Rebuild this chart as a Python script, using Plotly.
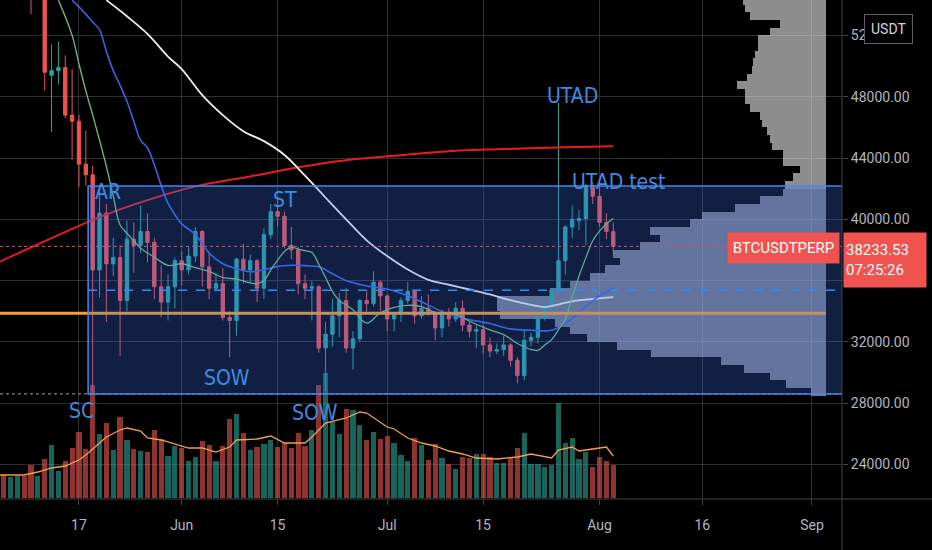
import pandas as pd
import plotly.graph_objects as go

# daily candles, BTCUSDT perp, 2021-05-06 .. 2021-08-03
days = pd.date_range("2021-05-06", "2021-08-03", freq="D")

opens = [57400, 56400, 57300, 58900, 58200, 55800, 56700, 49400, 49700, 49900, 46800, 46400, 43600, 42900,
         36700, 40400, 37100, 37500, 34700, 38700, 38300, 39200, 38500, 35600, 34600, 35600,
         37300, 36700, 37600, 39200, 36900, 35500, 35800, 33600, 33400, 37400, 36700, 37300, 35500, 39000,
         40500, 40200, 38300, 38000, 35800, 35500, 35600, 31600, 32500, 33700, 34700, 31600, 32200, 34700,
         34500, 35900,
         35000, 33500, 33800, 34700, 35300, 33700, 34200, 33900, 32900, 33800, 33500, 34200, 33100, 32700,
         32800, 31800, 31400, 31500, 31800, 30800, 29800, 32100, 32300, 33600, 34300, 35400, 37300, 39500,
         39900, 40050, 42200,
         41500, 39800, 39200]
highs = [58400, 58600, 59500, 59300, 59500, 56900, 58000, 51400, 51600, 50700, 49800, 46800, 45800, 43500,
         42100, 41000, 38800, 38300, 39900, 39800, 40900, 40400, 38800, 37000, 36400, 37500,
         37900, 38200, 39500, 39300, 37900, 36500, 36800, 34000, 37500, 38400, 37700, 37400, 39400, 41000,
         41300, 40500, 39500, 38200, 36400, 36000, 35700, 33300, 34800, 35200, 35500, 32700, 34800, 35300,
         36600, 36000,
         35100, 33900, 34900, 35900, 35400, 35000, 35100, 34000, 34100, 34200, 34600, 34700, 33300, 33100,
         33200, 32300, 31900, 32400, 31900, 31000, 32800, 32600, 33700, 34500, 35500, 47600, 39600, 40900,
         40600, 42300, 42400,
         42600, 40400, 39800]
lows = [55200, 55400, 56900, 56300, 53400, 54400, 48400, 45700, 48800, 46600, 43900, 42100, 42200, 28650,
        34900, 33300, 36300, 31100, 34000, 36500, 37800, 37200, 34800, 33600, 33400, 34200,
        35700, 36400, 37200, 35600, 34800, 35300, 33400, 31000, 32400, 35800, 35900, 34600, 34800, 38700,
        39500, 38100, 37400, 35100, 34800, 33400, 31300, 28800, 31700, 32300, 31300, 30200, 32000, 33900,
        34300, 34000,
        32700, 32700, 33300, 34500, 33200, 33500, 33700, 32100, 32300, 33000, 33300, 32700, 32300, 31600,
        31200, 31000, 31200, 31100, 30400, 29300, 29500, 31700, 31900, 33400, 33900, 35300, 36400, 38800,
        39300, 38300, 41000,
        39500, 38700, 37700]
closes = [56400, 57300, 58900, 58200, 55800, 56700, 49600, 49700, 49900, 46800, 46400, 43600, 42900, 36700,
          40400, 37100, 37500, 34700, 38700, 38300, 39200, 38500, 35600, 34600, 35600, 37300,
          36700, 37600, 39200, 36900, 35500, 35800, 33600, 33400, 37400, 36700, 37300, 35500, 39000, 40500,
          40200, 38300, 38000, 35800, 35500, 35600, 31600, 32500, 33700, 34700, 31600, 32200, 34700, 34500,
          35900, 35000,
          33500, 33800, 34700, 35300, 33700, 34200, 33900, 32900, 33800, 33500, 34200, 33100, 32700, 32800,
          31800, 31400, 31500, 31800, 30800, 29800, 32100, 32300, 33600, 34300, 35400, 37300, 39500, 40000,
          40050, 42200, 41500,
          39800, 39200, 38233.53]
# volume, thousand BTC
volumes = [138, 126, 132, 132, 198, 132, 234, 318, 162, 222, 300, 396, 294, 678, 384, 450, 288, 486, 348,
           294, 282, 276, 408, 354, 252, 312,
           300, 222, 246, 342, 318, 222, 312, 474, 504, 390, 288, 306, 324, 348, 306, 330, 300, 390, 312,
           408, 678, 750, 456, 384, 534, 528, 438, 348, 396, 354,
           372, 330, 258, 222, 360, 318, 228, 324, 240, 204, 174, 246, 240, 264, 264, 246, 210, 210, 240,
           300, 390, 204, 204, 186, 198, 570, 330, 360, 234, 276, 186,
           246, 222, 198]

# moving averages
ma200_dates = ["2021-05-05", "2021-05-13", "2021-05-20", "2021-05-27", "2021-06-03", "2021-06-11",
               "2021-06-18", "2021-06-25", "2021-07-03", "2021-07-10", "2021-07-17", "2021-07-27", "2021-08-03"]
ma200_vals = [37150, 38770, 40140, 41250, 42150, 42800, 43400, 43860, 44180, 44440, 44570, 44700, 44770]

ma100_dates = ["2021-05-21", "2021-05-24", "2021-05-27", "2021-05-30", "2021-06-01", "2021-06-04",
               "2021-06-07", "2021-06-10", "2021-06-13", "2021-06-16", "2021-06-19", "2021-06-22",
               "2021-06-25", "2021-06-28", "2021-07-01", "2021-07-04", "2021-07-07", "2021-07-10",
               "2021-07-13", "2021-07-16", "2021-07-19", "2021-07-22", "2021-07-24", "2021-07-26",
               "2021-07-28", "2021-07-31", "2021-08-03"]
ma100_vals = [54300, 53250, 52100, 50620, 49800, 48100, 46800, 45750, 45100, 44200, 42850, 41420, 40000,
              38630, 37600, 36720, 36050, 35730, 35420, 35100, 34720, 34410, 34270, 34450, 34650, 34800, 34920]

ma50_dates = ["2021-05-16", "2021-05-17", "2021-05-19", "2021-05-20", "2021-05-21", "2021-05-22",
              "2021-05-23", "2021-05-24", "2021-05-25", "2021-05-26", "2021-05-27", "2021-05-28",
              "2021-05-29", "2021-05-30", "2021-05-31", "2021-06-01", "2021-06-03", "2021-06-05",
              "2021-06-07", "2021-06-09", "2021-06-11", "2021-06-13", "2021-06-15", "2021-06-17",
              "2021-06-19", "2021-06-21", "2021-06-23", "2021-06-25", "2021-06-27", "2021-06-29",
              "2021-07-01", "2021-07-04", "2021-07-07", "2021-07-10", "2021-07-13", "2021-07-16",
              "2021-07-19", "2021-07-22", "2021-07-25", "2021-07-27", "2021-07-29", "2021-07-31", "2021-08-03"]
ma50_vals = [54300, 53860, 52880, 52370, 50950, 49700, 48750, 47700, 46400, 45150, 44670, 43560, 42200,
             41050, 40300, 39700, 39000, 37800, 37100, 36780, 36580, 36700, 36930, 37000, 36980, 36900,
             36450, 36000, 35750, 35580, 35450, 35020, 34400, 33800, 33450, 33200, 32850, 32760, 32760,
             33200, 33900, 34700, 35500]

ma10_dates = ["2021-05-14", "2021-05-16", "2021-05-17", "2021-05-18", "2021-05-19", "2021-05-20",
              "2021-05-21", "2021-05-22", "2021-05-23", "2021-05-24", "2021-05-25", "2021-05-26",
              "2021-05-28", "2021-05-30", "2021-06-01", "2021-06-03", "2021-06-05", "2021-06-07",
              "2021-06-09", "2021-06-11", "2021-06-12", "2021-06-13", "2021-06-14", "2021-06-15",
              "2021-06-16", "2021-06-17", "2021-06-18", "2021-06-19", "2021-06-20", "2021-06-21",
              "2021-06-22", "2021-06-23", "2021-06-24", "2021-06-25", "2021-06-26", "2021-06-28",
              "2021-06-30", "2021-07-02", "2021-07-04", "2021-07-06", "2021-07-08", "2021-07-11",
              "2021-07-13", "2021-07-16", "2021-07-18", "2021-07-20", "2021-07-22", "2021-07-23",
              "2021-07-24", "2021-07-25", "2021-07-26", "2021-07-27", "2021-07-28", "2021-07-29",
              "2021-07-30", "2021-07-31", "2021-08-01", "2021-08-02", "2021-08-03"]
ma10_vals = [54300, 52000, 50140, 48380, 46810, 45160, 43450, 41530, 39630, 39090, 38600, 38110, 37530,
             36990, 37100, 36850, 36600, 36200, 36100, 35850, 35800, 36000, 36700, 37330, 37900, 38180,
             38050, 37950, 37850, 37070, 36200, 35300, 34700, 34400, 34100, 33220, 33900, 34250, 34390,
             34300, 33930, 33800, 33350, 32780, 32470, 31900, 31500, 31450, 31800, 32150, 32800, 33500,
             34940, 36300, 37500, 38600, 39250, 39700, 40050]

vma_dates = ["2021-05-05", "2021-05-09", "2021-05-11", "2021-05-13", "2021-05-15", "2021-05-17",
             "2021-05-18", "2021-05-20", "2021-05-21", "2021-05-23", "2021-05-24", "2021-05-26",
             "2021-05-27", "2021-05-29", "2021-05-31", "2021-06-02", "2021-06-04", "2021-06-06",
             "2021-06-08", "2021-06-09", "2021-06-12", "2021-06-14", "2021-06-16", "2021-06-19",
             "2021-06-20", "2021-06-22", "2021-06-25", "2021-06-27", "2021-06-28", "2021-07-01",
             "2021-07-02", "2021-07-04", "2021-07-06", "2021-07-08", "2021-07-10", "2021-07-12",
             "2021-07-14", "2021-07-17", "2021-07-20", "2021-07-22", "2021-07-25", "2021-07-26",
             "2021-07-28", "2021-07-29", "2021-08-01", "2021-08-02", "2021-08-03"]
vma_vals = [138, 138, 156, 180, 192, 228, 258, 330, 366, 408, 420, 402, 360, 348, 324, 300, 300, 276,
            306, 348, 354, 372, 330, 330, 366, 450, 480, 516, 510, 426, 414, 360, 330, 312, 282, 264,
            240, 234, 246, 264, 240, 288, 306, 282, 300, 306, 252]

# visible range volume profile, rows of 500 USDT from 28500
profile_rows = list(range(28750, 54500, 500))
profile_vol = [15, 40, 56, 82, 105, 175, 209, 239, 256, 271, 326, 329, 329, 276, 256, 236, 221, 206, 213,
               186, 166, 176, 136, 124, 91, 66, 43, 41, 33, 26, 43, 43, 54, 56, 59, 64, 66, 76, 81, 81,
               89, 79, 74, 73, 71, 68, 68, 56, 46, 76, 81, 83]

price_ticks = [24000, 28000, 32000, 36000, 40000, 44000, 48000, 52000]
date_ticks = ["2021-05-17", "2021-06-01", "2021-06-15", "2021-07-01", "2021-07-15", "2021-08-01",
              "2021-08-16", "2021-09-01"]
date_labels = ["17", "Jun", "15", "Jul", "15", "Aug", "16", "Sep"]

last_price = closes[-1]
poc_price = 33870
range_top, range_bottom = 42170, 28600
level_price = 35370

UP = "#26a69a"
DOWN = "#ef5350"
LBL = "#3b8de3"
W, H = 842, 499  # plot area in px
DAY_MS = 86400000
profile_anchor = pd.Timestamp("2021-09-03 01:15")  # right edge of the profile
profile_unit = 0.146 * DAY_MS                        # bar length per volume unit


def px(x):
    return x / W


def py(y):
    return 1 - y / H


fig = go.Figure()

vol_colors = ["rgba(38,166,154,0.6)" if c >= o else "rgba(239,83,80,0.6)" for o, c in zip(opens, closes)]
fig.add_trace(go.Bar(x=days, y=volumes, yaxis="y2", marker=dict(color=vol_colors, line_width=0),
                     width=0.76 * DAY_MS, hoverinfo="skip"))
fig.add_trace(go.Scatter(x=vma_dates, y=vma_vals, yaxis="y2", mode="lines",
                         line=dict(color="#f5a04a", width=1.3), hoverinfo="skip"))

fig.add_trace(go.Candlestick(x=days, open=opens, high=highs, low=lows, close=closes, whiskerwidth=0,
                             increasing=dict(line=dict(color=UP, width=1), fillcolor=UP),
                             decreasing=dict(line=dict(color=DOWN, width=1), fillcolor=DOWN)))

fig.add_trace(go.Scatter(x=ma200_dates, y=ma200_vals, mode="lines", line=dict(color="#e81c1c", width=2),
                         line_shape="spline", hoverinfo="skip"))
fig.add_trace(go.Scatter(x=ma100_dates, y=ma100_vals, mode="lines", line=dict(color="#eeeeee", width=1.8),
                         line_shape="spline", hoverinfo="skip"))
fig.add_trace(go.Scatter(x=ma50_dates, y=ma50_vals, mode="lines", line=dict(color="#3464e0", width=1.6),
                         line_shape="spline", hoverinfo="skip"))
fig.add_trace(go.Scatter(x=ma10_dates, y=ma10_vals, mode="lines", line=dict(color="#72bf76", width=1.3),
                         line_shape="spline", hoverinfo="skip"))

# profile grows leftwards from its anchor; rows inside the range get tinted by the box on top
row_colors = ["rgba(190,200,212,0.6)" if r < range_top else "rgba(235,235,235,0.6)" for r in profile_rows]
fig.add_trace(go.Bar(y=profile_rows, x=[-v * profile_unit for v in profile_vol],
                     base=[profile_anchor] * len(profile_rows), orientation="h", width=500,
                     marker=dict(color=row_colors, line_width=0), hoverinfo="skip"))

shapes = [
    dict(type="line", xref="paper", yref="y", x0=0, x1=px(826), y0=poc_price, y1=poc_price,
         line=dict(color="#f5a030", width=3), layer="above"),
    dict(type="line", xref="paper", yref="y", x0=px(88), x1=px(835), y0=level_price, y1=level_price,
         line=dict(color="#2a96ef", width=1.5, dash="dash"), layer="above"),
    dict(type="line", xref="paper", yref="y", x0=0, x1=1, y0=last_price, y1=last_price,
         line=dict(color="#ef5350", width=1, dash="dot"), layer="above"),
    dict(type="line", xref="paper", yref="y", x0=0, x1=1, y0=range_bottom + 10, y1=range_bottom + 10,
         line=dict(color="#a0a3ab", width=1, dash="dot"), layer="above"),
    dict(type="rect", xref="x", yref="y", x0="2021-05-18 08:00", x1="2021-09-30",
         y0=range_bottom, y1=range_top, fillcolor="rgba(60,110,240,0.28)",
         line=dict(color="#4a84ee", width=1.5), layer="above"),
    # axis borders
    dict(type="line", xref="paper", yref="paper", x0=0, x1=932 / W, y0=0, y1=0,
         line=dict(color="#45454a", width=1), layer="above"),
    dict(type="line", xref="paper", yref="paper", x0=1, x1=1, y0=1, y1=-51 / H,
         line=dict(color="#45454a", width=1), layer="above"),
]

label_font = dict(family="Liberation Sans Narrow, DejaVu Sans Condensed, Roboto", size=21, color=LBL)
notes = [
    ("AR", "2021-05-21 05:00", 41770),
    ("ST", "2021-06-16 02:00", 41250),
    ("SOW", "2021-06-07 14:00", 29630),
    ("SC", "2021-05-17 10:00", 27480),
    ("SOW", "2021-06-20 11:00", 27350),
    ("UTAD", "2021-07-28 00:00", 48030),
    ("UTAD test", "2021-08-03 19:00", 42420),
]
annotations = [dict(text=t, x=x, y=y, xref="x", yref="y", showarrow=False, font=label_font)
               for t, x, y in notes]
white = dict(family="Roboto", size=15, color="#ffffff")
annotations += [
    dict(text="BTCUSDTPERP", xref="paper", yref="paper", x=px(840), y=py(232), xanchor="right",
         yanchor="top", width=107, height=26, borderpad=2, bgcolor="#f05350", showarrow=False, font=white),
    dict(text=f"{last_price:.2f}<br>07:25:26", xref="paper", yref="paper", x=px(843), y=py(232),
         xanchor="left", yanchor="top", width=78, height=50, borderpad=2, align="left",
         bgcolor="#f05350", showarrow=False, font=white),
    dict(text="USDT", xref="paper", yref="paper", x=px(888), y=py(28.5), xanchor="center",
         yanchor="middle", showarrow=False, bgcolor="#000000", bordercolor="#5d606b", borderwidth=1,
         borderpad=6, font=dict(family="Roboto", size=14, color="#d1d4dc")),
]

grid = "#2e2e33"
tickfont = dict(family="Roboto", size=14, color="#b2b5be")
fig.update_layout(
    width=932, height=550,
    margin=dict(l=0, r=90, t=0, b=51),
    paper_bgcolor="#000000", plot_bgcolor="#000000",
    showlegend=False,
    xaxis=dict(type="date", range=["2021-05-05 11:20", "2021-09-05 09:20"], rangeslider=dict(visible=False),
               tickvals=date_ticks, ticktext=date_labels, showgrid=True, gridcolor=grid, zeroline=False,
               ticks="outside", ticklen=5, tickcolor="#45454a", tickfont=tickfont, ticklabelstandoff=8,
               showline=False),
    yaxis=dict(side="right", range=[21750, 54310], tickvals=price_ticks, tickformat=".2f",
               showgrid=True, gridcolor=grid, zeroline=False, ticks="outside", ticklen=5,
               tickcolor="#45454a", tickfont=tickfont, showline=False),
    yaxis2=dict(overlaying="y", range=[-6, 2988], visible=False),
    shapes=shapes,
    annotations=annotations,
    bargap=0,
)

fig.write_html("out.html", config={"displayModeBar": False},
               post_script="document.body.style.margin='0';document.body.style.background='#000';")
